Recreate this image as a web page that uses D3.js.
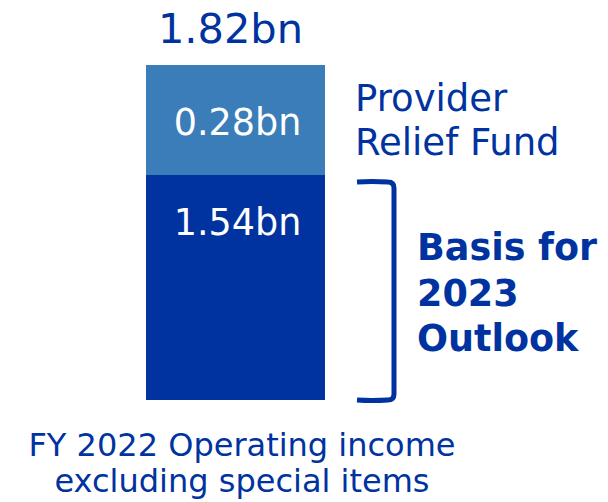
<!DOCTYPE html>
<html>
<head>
<meta charset="utf-8">
<script src="https://cdn.jsdelivr.net/npm/d3@7"></script>
<style>
  body { margin: 0; background: #fff; }
  text { font-family: "DejaVu Sans", Verdana, sans-serif; }
</style>
</head>
<body>
<div id="chart"></div>
<script>
// Dados do gráfico
const categories = ["FY 2022 Operating income", "excluding special items"];
const segmentNames = ["Basis for 2023 Outlook", "Provider Relief Fund"];
const segmentValues = [1.54, 0.28];
const segmentLabels = ["1.54bn", "0.28bn"];
const totalLabel = "1.82bn";
const sideLabels = ["Provider", "Relief Fund"];
const bracketLabels = ["Basis for", "2023", "Outlook"];

const width = 608, height = 502;
const dark = "#0033a0", light = "#3a7db8";

const svg = d3.select("#chart").append("svg")
  .attr("width", width)
  .attr("height", height);

// Escala (o gráfico original não é proporcional, por isso escala por partes)
const total = d3.sum(segmentValues);
const y = d3.scaleLinear()
  .domain([0, segmentValues[0], total])
  .range([400, 175, 65]);
const x = d3.scaleBand().domain(["FY2022"]).range([146, 325]).padding(0);

// Empilhamento
let acc = 0;
const stacked = segmentValues.map((v, i) => {
  const d = { y0: acc, y1: acc + v, label: segmentLabels[i], color: i === 0 ? dark : light };
  acc += v;
  return d;
});

svg.selectAll("rect.seg")
  .data(stacked)
  .join("rect")
  .attr("class", "seg")
  .attr("x", x("FY2022"))
  .attr("width", x.bandwidth())
  .attr("y", d => y(d.y1))
  .attr("height", d => y(d.y0) - y(d.y1))
  .attr("fill", d => d.color);

// Rótulos dentro das barras
const cx = x("FY2022") + x.bandwidth() / 2;
svg.selectAll("text.seglabel")
  .data(stacked)
  .join("text")
  .attr("class", "seglabel")
  .attr("x", cx + 2)
  .attr("y", (d, i) => i === 0 ? y(d.y1) + 60 : y(d.y1) + 70)
  .attr("text-anchor", "middle")
  .attr("fill", "#fff")
  .style("font-size", "36.5px")
  .text(d => d.label);

// Total
svg.append("text")
  .attr("x", cx - 5)
  .attr("y", y(total) - 22)
  .attr("text-anchor", "middle")
  .attr("fill", dark)
  .style("font-size", "41.5px")
  .text(totalLabel);

// Rótulo lateral
svg.append("text")
  .attr("fill", dark)
  .style("font-size", "37px")
  .selectAll("tspan")
  .data(sideLabels)
  .join("tspan")
  .attr("x", 355)
  .attr("y", (d, i) => 111 + i * 44)
  .text(d => d);

// Colchete
const bx = 394, bTop = y(segmentValues[0]) + 7, bBot = y(0);
svg.append("path")
  .attr("d", `M357,${bTop} Q372,${bTop - 1} 388,${bTop} Q${bx},${bTop} ${bx},${bTop + 6} L${bx},${bBot - 6} Q${bx},${bBot} 388,${bBot} Q372,${bBot + 1} 357,${bBot}`)
  .attr("fill", "none")
  .attr("stroke", dark)
  .attr("stroke-width", 5);

svg.append("text")
  .attr("fill", dark)
  .style("font-size", "36.5px")
  .style("font-weight", "bold")
  .selectAll("tspan")
  .data(bracketLabels)
  .join("tspan")
  .attr("x", 417)
  .attr("y", (d, i) => 260 + i * 45.5)
  .text(d => d);

// Rótulo da categoria
svg.append("text")
  .attr("fill", dark)
  .attr("text-anchor", "middle")
  .style("font-size", "32px")
  .selectAll("tspan")
  .data(categories)
  .join("tspan")
  .attr("x", 242)
  .attr("y", (d, i) => 456 + i * 36)
  .text(d => d);
</script>
</body>
</html>
